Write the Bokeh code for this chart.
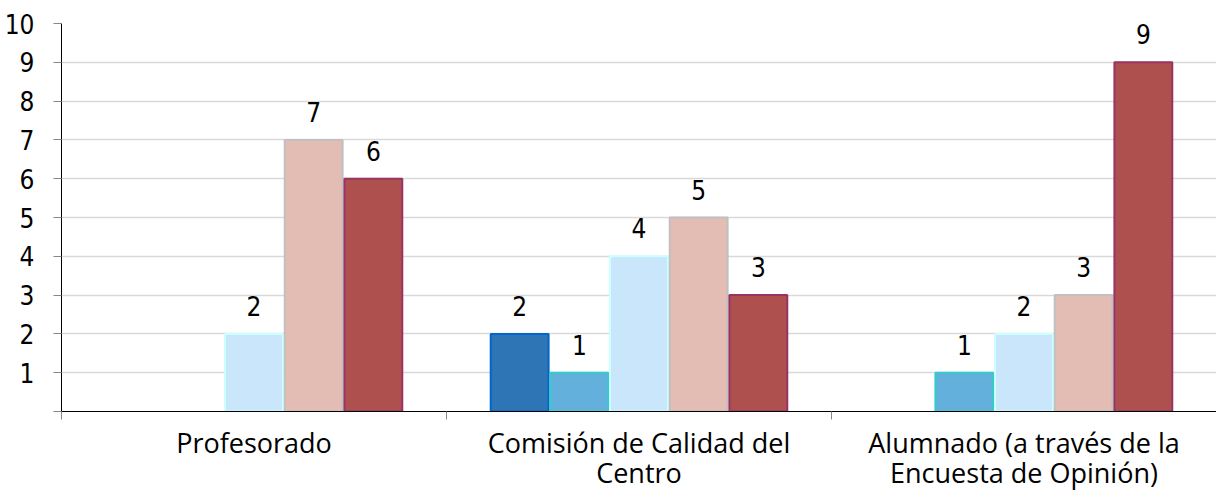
from bokeh.plotting import figure
from bokeh.models import ColumnDataSource, FixedTicker, Range1d
from bokeh.core.properties import value
from bokeh.embed import file_html
from bokeh.resources import INLINE

categories = ["Profesorado", "Comisión de Calidad del\nCentro", "Alumnado (a través de la\nEncuesta de Opinión)"]
series_1 = [0, 2, 0]
series_2 = [0, 1, 1]
series_3 = [2, 4, 2]
series_4 = [7, 5, 3]
series_5 = [6, 3, 9]
y_ticks = list(range(0, 11))
y_tick_labels = [""] + [str(t) for t in range(1, 11)]

series = [series_1, series_2, series_3, series_4, series_5]
fills = ["#2E75B6", "#63B0DD", "#C9E6FB", "#E3BDB4", "#AD504E"]
lines = ["#0066CC", "#33CCCC", "#CCFFFF", "#C0C0C0", "#993366"]

NUM_FONT = "DejaVu Sans Condensed"
bar_w = 0.155
n = len(series)

p = figure(width=1216, height=493, output_backend="svg", toolbar_location=None,
           x_range=Range1d(0, len(categories)), y_range=Range1d(0, 10),
           min_border_left=61, min_border_top=23, min_border_right=0, min_border_bottom=82)
p.outline_line_color = None
p.background_fill_color = "white"
p.border_fill_color = "white"

for j, vals in enumerate(series):
    xs, ys = [], []
    for i, v in enumerate(vals):
        if v > 0:
            xs.append(i + 0.5 + (j - (n - 1) / 2) * bar_w)
            ys.append(v)
    src = ColumnDataSource(dict(x=xs, top=ys, label=[str(v) for v in ys]))
    p.vbar(x="x", top="top", bottom=0, width=bar_w * 0.97, source=src,
           fill_color=fills[j], line_color=lines[j], line_width=2)
    p.text(x="x", y="top", text="label", source=src, text_align="center",
           text_baseline="bottom", y_offset=-18, text_font=value(NUM_FONT),
           text_font_size="26px", text_color="black")

# y axis
p.yaxis.ticker = FixedTicker(ticks=y_ticks)
p.yaxis.major_label_overrides = {t: l for t, l in zip(y_ticks, y_tick_labels)}
p.yaxis.major_label_text_font = NUM_FONT
p.yaxis.major_label_text_font_size = "26px"
p.yaxis.major_label_text_color = "black"
p.yaxis.major_tick_in = 0
p.yaxis.major_tick_out = 8
p.yaxis.major_tick_line_color = "#868686"
p.yaxis.minor_tick_line_color = None
p.yaxis.axis_line_color = "black"
p.yaxis.major_label_standoff = 19

# x axis
centers = [i + 0.5 for i in range(len(categories))]
p.xaxis.ticker = FixedTicker(ticks=centers, minor_ticks=list(range(len(categories) + 1)))
p.xaxis.major_label_overrides = {c: lab for c, lab in zip(centers, categories)}
p.xaxis.major_tick_line_color = None
p.xaxis.minor_tick_in = 0
p.xaxis.minor_tick_out = 8
p.xaxis.minor_tick_line_color = "#868686"
p.xaxis.axis_line_color = "black"
p.xaxis.major_label_text_font = "Open Sans"
p.xaxis.major_label_text_font_size = "27px"
p.xaxis.major_label_text_color = "black"
p.xaxis.major_label_text_line_height = 0.82
p.xaxis.major_label_standoff = 4

p.xgrid.grid_line_color = None
p.ygrid.ticker = FixedTicker(ticks=y_ticks)
p.ygrid.grid_line_color = "#D9D9D9"
p.ygrid.grid_line_width = 1.5

open("out.html", "w").write(file_html(p, INLINE))
